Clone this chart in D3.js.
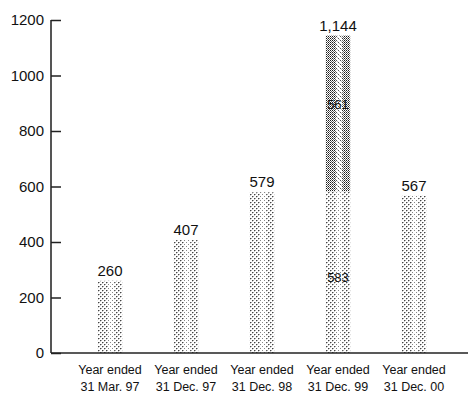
<!DOCTYPE html>
<html><head><meta charset="utf-8">
<script src="https://cdn.jsdelivr.net/npm/d3@7"></script>
<style>body{margin:0;background:#fff}svg{display:block}text{font-family:"Liberation Sans",Arial,sans-serif}</style>
</head><body>
<svg id="c" width="468" height="394"></svg>
<script>
const categoriesLine1 = ["Year ended","Year ended","Year ended","Year ended","Year ended"];
const categoriesLine2 = ["31 Mar. 97","31 Dec. 97","31 Dec. 98","31 Dec. 99","31 Dec. 00"];
const baseValues = [260, 407, 579, 583, 567];
const topValues = [0, 0, 0, 561, 0];
const totalLabels = ["260","407","579","1,144","567"];
const yTicks = [0, 200, 400, 600, 800, 1000, 1200];

const svg = d3.select("#c");
const x = d3.scaleBand().domain(d3.range(5)).range([72, 452]).paddingInner(0.68).paddingOuter(0.34);
const y = d3.scaleLinear().domain([0, 1200]).range([353, 20]);

const defs = svg.append("defs");
function pat(id, w, h, dots, bg) {
  const p = defs.append("pattern").attr("id", id).attr("patternUnits", "userSpaceOnUse").attr("width", w).attr("height", h);
  p.append("rect").attr("width", w).attr("height", h).attr("fill", bg);
  dots.forEach(d => p.append("rect").attr("x", d[0]).attr("y", d[1]).attr("width", 1).attr("height", 1).attr("fill", d[2]));
}
pat("light", 4, 4, [[0,0,"#444"],[2,2,"#444"],[1,0,"#aaa"],[3,2,"#aaa"],[0,1,"#ccc"],[2,3,"#ccc"]], "#fff");
pat("stripe", 4, 4, [[0,0,"#888"],[2,2,"#888"]], "#fff");
pat("dark", 2, 2, [[0,0,"#1a1a1a"],[1,1,"#666"]], "#fff");
pat("darkstripe", 4, 4, [[0,0,"#555"],[2,2,"#555"],[1,1,"#bbb"],[3,3,"#bbb"]], "#fff");

const bw = x.bandwidth();
function drawBar(i, v0, v1, fillId, stripeId) {
  const g = svg.append("g");
  g.append("rect").attr("x", x(i)).attr("y", y(v1)).attr("width", bw).attr("height", y(v0) - y(v1)).attr("fill", `url(#${fillId})`);
  g.append("rect").attr("x", x(i) + bw * 0.42).attr("y", y(v1)).attr("width", bw * 0.26).attr("height", y(v0) - y(v1)).attr("fill", `url(#${stripeId})`);
}
baseValues.forEach((v, i) => {
  drawBar(i, 0, v, "light", "stripe");
  if (topValues[i] > 0) drawBar(i, v, v + topValues[i], "dark", "darkstripe");
});

// axes
const yAxis = d3.axisRight(y).tickValues(yTicks).tickSize(10).tickFormat("");
const ya = svg.append("g").attr("transform", "translate(51,0)").call(yAxis);
ya.select(".domain").attr("stroke", "#555").attr("stroke-width", 2).attr("d", `M0,${y(1200)}V${y(0)}`);
ya.selectAll(".tick line").attr("stroke", "#222").attr("stroke-width", 1.5);
svg.append("g").selectAll("text").data(yTicks).join("text")
  .attr("x", 44).attr("y", d => y(d)).attr("dy", "0.35em").attr("text-anchor", "end")
  .attr("font-size", 15).attr("fill", "#111").text(d => d);
svg.append("line").attr("x1", 51).attr("x2", 468).attr("y1", y(0)).attr("y2", y(0)).attr("stroke", "#222").attr("stroke-width", 1.5);

// category labels
const cx = i => x(i) + bw / 2;
svg.append("g").selectAll("text").data(categoriesLine1).join("text")
  .attr("x", (d, i) => cx(i)).attr("y", 374).attr("text-anchor", "middle").attr("font-size", 12.5).attr("fill", "#111").text(d => d);
svg.append("g").selectAll("text").data(categoriesLine2).join("text")
  .attr("x", (d, i) => cx(i)).attr("y", 391).attr("text-anchor", "middle").attr("font-size", 12.5).attr("fill", "#111").text(d => d);

// value labels
const totals = baseValues.map((v, i) => v + topValues[i]);
svg.append("g").selectAll("text").data(totalLabels).join("text")
  .attr("x", (d, i) => cx(i)).attr("y", (d, i) => y(totals[i]) - 5).attr("text-anchor", "middle")
  .attr("font-size", 15).attr("fill", "#111").text(d => d);
// segment labels on stacked bar
svg.append("text").attr("x", cx(3)).attr("y", y(baseValues[3] + topValues[3] * 0.56)).attr("dy", "0.35em")
  .attr("text-anchor", "middle").attr("font-size", 13).attr("fill", "#111").text(topValues[3]);
svg.append("text").attr("x", cx(3)).attr("y", y(baseValues[3] * 0.465)).attr("dy", "0.35em")
  .attr("text-anchor", "middle").attr("font-size", 13).attr("fill", "#111").text(baseValues[3]);
</script>
</body></html>
